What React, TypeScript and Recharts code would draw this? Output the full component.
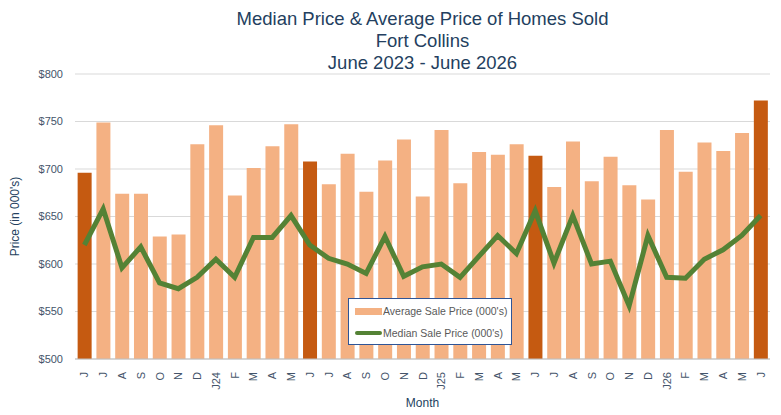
import { ComposedChart, Bar, Line, XAxis, YAxis, CartesianGrid, Legend, Cell, Label } from "recharts";

const monthTicks = [
  "J", "J", "A", "S", "O", "N", "D", "J24", "F", "M", "A", "M",
  "J", "J", "A", "S", "O", "N", "D", "J25", "F", "M", "A", "M",
  "J", "J", "A", "S", "O", "N", "D", "J26", "F", "M", "A", "M", "J",
];

// average sale price, thousands
const averagePrice = [
  696, 749, 674, 674, 629, 631, 726, 746, 672, 701, 724, 747,
  708, 684, 716, 676, 709, 731, 671, 741, 685, 718, 715, 726,
  714, 681, 729, 687, 713, 683, 668, 741, 697, 728, 719, 738, 772,
];

// median sale price, thousands
const medianPrice = [
  620, 658, 596, 618, 580, 574, 586, 605, 586, 628, 628, 651,
  620, 606, 600, 590, 629, 587, 597, 600, 586, 608, 630, 611,
  656, 601, 651, 600, 603, 556, 630, 586, 585, 605, 615, 630, 651,
];

// the Junes are drawn darker
const juneBars = [0, 12, 24, 36];

const yTicks = [500, 550, 600, 650, 700, 750, 800];

const data = monthTicks.map((m, i) => ({
  month: m,
  average: averagePrice[i],
  median: medianPrice[i],
}));

const FONT = "'Liberation Sans Narrow', 'Arial Narrow', 'Liberation Sans', Arial, sans-serif";
const TEXT = "#44546A";
const TITLE = "#243F60";

const MonthTick = ({ x, y, payload }: any) => (
  <text
    x={x}
    y={y + 5}
    transform={`rotate(-90 ${x} ${y + 5})`}
    textAnchor="end"
    dominantBaseline="central"
    fontSize={11}
    fontFamily={FONT}
    fill={TEXT}
  >
    {payload.value}
  </text>
);

const renderLegend = () => (
  <div
    style={{
      border: "1px solid #2F5597",
      background: "#fff",
      height: 45,
      fontFamily: FONT,
      fontSize: 10.5,
      color: "#595959",
      whiteSpace: "nowrap",
      overflow: "hidden",
    }}
  >
    <div style={{ display: "flex", alignItems: "center", height: 24, paddingLeft: 6 }}>
      <span style={{ width: 27, height: 7, background: "#F4B183", marginRight: 1, flex: "none" }} />
      Average Sale Price (000's)
    </div>
    <div style={{ display: "flex", alignItems: "center", height: 20, paddingLeft: 6 }}>
      <span style={{ width: 27, height: 4, background: "#548235", marginRight: 1, borderRadius: 2, flex: "none" }} />
      Median Sale Price (000's)
    </div>
  </div>
);

export default function App() {
  return (
    <div style={{ position: "absolute", left: 0, top: 0, width: 781, height: 415, background: "#fff" }}>
      <div
        style={{
          position: "absolute",
          left: 75,
          width: 695,
          top: 8,
          textAlign: "center",
          fontFamily: FONT,
          fontSize: 18.5,
          lineHeight: "22px",
          color: TITLE,
        }}
      >
        <div>Median Price &amp; Average Price of Homes Sold</div>
        <div>Fort Collins</div>
        <div>June 2023 - June 2026</div>
      </div>
      <ComposedChart
        width={781}
        height={415}
        data={data}
        margin={{ top: 74, right: 11, left: 0, bottom: 0 }}
        barCategoryGap="14%"
      >
        <CartesianGrid vertical={false} stroke="#D9D9D9" />
        <XAxis
          dataKey="month"
          height={56}
          interval={0}
          tick={<MonthTick />}
          tickLine={false}
          axisLine={{ stroke: "#BFBFBF" }}
        >
          <Label
            value="Month"
            position="insideBottom"
            offset={8}
            fontSize={12}
            fontFamily={FONT}
            fill={TITLE}
          />
        </XAxis>
        <YAxis
          width={75}
          domain={[500, 800]}
          ticks={yTicks}
          tickFormatter={(v: number) => `$${v}`}
          tick={{ fontSize: 11, fontFamily: FONT, fill: TEXT }}
          tickMargin={6}
          tickLine={false}
          axisLine={false}
        >
          <Label
            content={({ viewBox }: any) => {
              const cy = viewBox.y + viewBox.height / 2;
              return (
                <text
                  x={15}
                  y={cy}
                  transform={`rotate(-90 15 ${cy})`}
                  textAnchor="middle"
                  dominantBaseline="central"
                  fontSize={12}
                  fontFamily={FONT}
                  fill={TITLE}
                >
                  Price (in 000's)
                </text>
              );
            }}
          />
        </YAxis>
        <Legend
          content={renderLegend}
          layout="horizontal"
          verticalAlign="middle"
          align="center"
          wrapperStyle={{ left: 348, top: 298, width: 164, height: 47 }}
        />
        <Bar dataKey="average" name="Average Sale Price (000's)" fill="#F4B183" isAnimationActive={false}>
          {data.map((_, i) => (
            <Cell key={i} fill={juneBars.includes(i) ? "#C55A11" : "#F4B183"} />
          ))}
        </Bar>
        <Line
          dataKey="median"
          name="Median Sale Price (000's)"
          type="linear"
          stroke="#548235"
          strokeWidth={5}
          dot={false}
          isAnimationActive={false}
        />
      </ComposedChart>
    </div>
  );
}
